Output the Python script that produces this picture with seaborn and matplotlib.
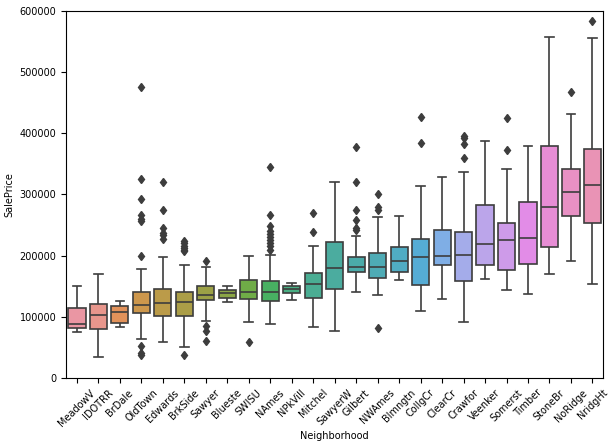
import pandas as pd
import matplotlib
matplotlib.use('Agg')
import matplotlib.pyplot as plt
import seaborn as sns

# 按中位数排序的街区
neighborhoods = ['MeadowV', 'IDOTRR', 'BrDale', 'OldTown', 'Edwards', 'BrkSide', 'Sawyer',
                 'Blueste', 'SWISU', 'NAmes', 'NPkVill', 'Mitchel', 'SawyerW', 'Gilbert',
                 'NWAmes', 'Blmngtn', 'CollgCr', 'ClearCr', 'Crawfor', 'Veenker', 'Somerst',
                 'Timber', 'StoneBr', 'NoRidge', 'NridgHt']

# 箱线图统计量 (单位: 美元)
whisker_low = [75000, 34900, 83000, 63000, 58500, 51000, 93000, 124000, 90700, 88000,
               127000, 84000, 76000, 141000, 135000, 160600, 109000, 129500, 90700, 162000,
               144000, 137700, 170000, 190600, 154000]
q1 = [81500, 80000, 90000, 106000, 101600, 101000, 127000, 130000, 129000, 126000,
      139000, 130000, 145000, 173000, 164000, 174000, 152000, 184000, 158000, 184000,
      177000, 187000, 214000, 264000, 253600]
median = [88000, 103000, 107000, 120000, 122000, 124000, 135500, 139000, 140000, 140000,
          145000, 154000, 180000, 181000, 182000, 192000, 197000, 200000, 201600, 219000,
          226000, 229000, 280000, 303800, 316000]
q3 = [114000, 121000, 117500, 140000, 145000, 141000, 150000, 144000, 160600, 159000,
      150000, 171600, 222000, 197000, 204000, 214000, 227000, 242600, 238000, 282000,
      253600, 287000, 379000, 342000, 375000]
whisker_high = [151000, 170000, 125000, 178000, 198000, 184000, 181000, 151000, 200000, 201600,
                155000, 216000, 320000, 231600, 263000, 265000, 314000, 328000, 336500, 387000,
                341500, 379000, 558000, 431600, 556000]
outliers = [
    [],
    [],
    [],
    [37900, 40000, 52000, 199000, 256000, 260000, 267000, 293000, 325000, 475000],
    [227000, 233000, 237000, 245000, 275000, 320000],
    [37000, 207000, 210000, 213000, 216000, 220000, 223500],
    [61000, 77000, 85000, 190600],
    [],
    [58500],
    [210000, 215000, 220000, 225000, 230000, 236000, 241000, 248000, 267000, 345000],
    [],
    [239000, 270000],
    [],
    [242000, 245000, 259000, 275000, 320000, 377500],
    [81500, 275000, 280000, 300000],
    [],
    [384000, 426000],
    [],
    [360000, 382000, 392000, 395500],
    [],
    [373000, 425000],
    [],
    [],
    [467000],
    [583000],
]

# 用统计量构造样本, 让 seaborn 自己计算四分位数和须线
rows = []
for i, name in enumerate(neighborhoods):
    values = [whisker_low[i]] + [q1[i]] * 50 + [median[i]] * 50 + [q3[i]] * 50 \
             + [whisker_high[i]] + outliers[i]
    for v in values:
        rows.append({'Neighborhood': name, 'SalePrice': v})
df = pd.DataFrame(rows)

plt.rcParams['font.family'] = ['DejaVu Sans']
plt.rcParams['font.size'] = 7

line_gray = '#3d3d3d'
fig, ax = plt.subplots(figsize=(6.13, 4.42), dpi=100)
sns.boxplot(data=df, x='Neighborhood', y='SalePrice', hue='Neighborhood', order=neighborhoods,
            palette=sns.husl_palette(len(neighborhoods), l=.7), legend=False, ax=ax,
            linewidth=1.2, linecolor=line_gray, fliersize=4.5,
            flierprops=dict(marker='d', markerfacecolor=line_gray, markeredgecolor=line_gray))
ax.set_ylim(0, 600000)
plt.xticks(rotation=45)
ax.tick_params(labelsize=7)
ax.set_xlabel('Neighborhood', fontsize=7, labelpad=2)
ax.set_ylabel('SalePrice', fontsize=7)
fig.subplots_adjust(left=0.108, right=0.984, top=0.975, bottom=0.145)
plt.savefig('out.png')
plt.close()
